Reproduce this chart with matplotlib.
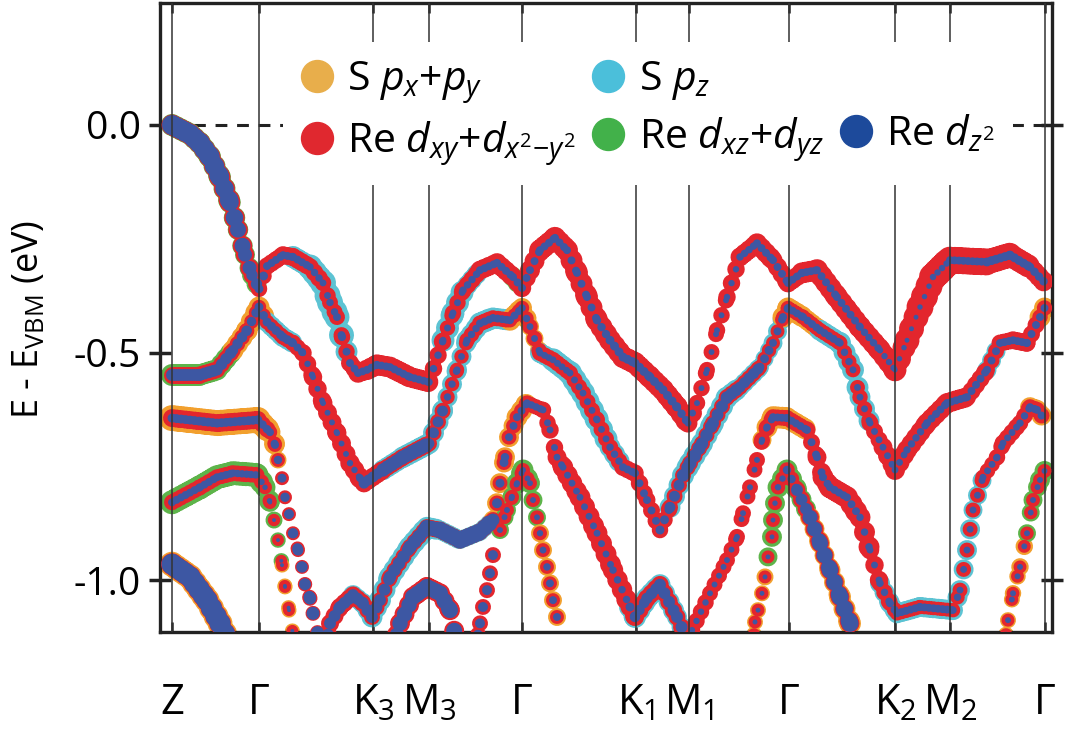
import matplotlib
matplotlib.use('Agg')
import matplotlib.pyplot as plt
from matplotlib.collections import LineCollection
from matplotlib.lines import Line2D
import numpy as np

plt.rcParams['font.family'] = ['Open Sans', 'DejaVu Sans']
plt.rcParams['mathtext.fontset'] = 'custom'
plt.rcParams['mathtext.rm'] = 'Open Sans'
plt.rcParams['mathtext.it'] = 'Open Sans:italic'
plt.rcParams['lines.scale_dashes'] = False

# high-symmetry points along the k-path
kpts = [0.0, 0.87, 2.01, 2.57, 3.50, 4.64, 5.17, 6.17, 7.23, 7.78, 8.73]
klabels = ['Z', 'Γ', 'K$_3$', 'M$_3$', 'Γ', 'K$_1$', 'M$_1$', 'Γ', 'K$_2$', 'M$_2$', 'Γ']

# every band: k, E (eV), halo orbital per point (o: S px+py, c: S pz, g: Re dxz+dyz, n: none),
# and dot diameters (px) of the halo, Re dxy+dx2-y2 (red) and Re dz2 (blue) layers
b1_k = [0.00, 0.18, 0.28, 0.38, 0.48, 0.58, 0.66, 0.73, 0.80, 0.87,
        0.95, 1.11, 1.21, 1.38, 1.51, 1.58, 1.65, 1.70, 1.78, 1.86, 1.95, 2.05, 2.18, 2.38, 2.57,
        2.71, 2.81, 2.91, 3.08, 3.25, 3.41, 3.50,
        3.58, 3.68, 3.83, 3.95, 4.05, 4.15, 4.25, 4.38, 4.51, 4.63, 4.78, 4.91, 5.05, 5.16,
        5.25, 5.35, 5.45, 5.55, 5.68, 5.85, 6.01, 6.16,
        6.30, 6.45, 6.65, 6.88, 7.08, 7.23, 7.35, 7.48, 7.61, 7.78, 8.15, 8.38, 8.58, 8.73]
b1_e = [0.000, -0.020, -0.040, -0.070, -0.115, -0.170, -0.230, -0.285, -0.330, -0.360,
        -0.310, -0.286, -0.290, -0.312, -0.347, -0.390, -0.422, -0.466, -0.523, -0.545, -0.538, -0.527, -0.532, -0.554, -0.565,
        -0.473, -0.413, -0.363, -0.319, -0.303, -0.334, -0.358,
        -0.319, -0.275, -0.248, -0.275, -0.325, -0.378, -0.429, -0.473, -0.510, -0.523, -0.554, -0.582, -0.620, -0.655,
        -0.611, -0.538, -0.451, -0.378, -0.290, -0.260, -0.297, -0.347,
        -0.325, -0.319, -0.378, -0.444, -0.495, -0.538, -0.473, -0.400, -0.334, -0.297, -0.301, -0.286, -0.312, -0.347]
b1_h = 'gggggggggg' + 'nncccccccnnnnnn' + 'ccccngg' + 'nnnnnnnnnnnnnn' + 'nnnnnnng' + 'nnnnnnnnnnnnng'
b1_hs = [22, 22, 22, 22, 22, 22, 21, 20, 20, 20,
         0, 0, 20, 24, 26, 26, 26, 24, 20, 0, 0, 0, 0, 0, 0,
         22, 24, 22, 18, 0, 20, 20,
         0, 0, 0, 0, 0, 0, 0, 0, 0, 0, 0, 0, 0, 0,
         0, 0, 0, 0, 0, 0, 0, 20,
         0, 0, 0, 0, 0, 0, 0, 0, 0, 0, 0, 0, 0, 20]
b1_rs = [21, 21, 21, 21, 21, 21, 20, 19, 18, 16,
         17, 18, 18, 18, 17, 16, 16, 16, 17, 19, 20, 21, 21, 21, 20,
         15, 16, 17, 18, 20, 19, 18,
         19, 21, 22, 22, 22, 22, 22, 22, 22, 22, 22, 22, 22, 21,
         17, 16, 16, 17, 18, 20, 20, 18,
         20, 22, 22, 22, 22, 22, 24, 26, 28, 28, 26, 24, 22, 18]
b1_bs = [20, 20, 20, 20, 19, 18, 17, 15, 13, 10,
         8, 8, 8, 8, 7, 7, 8, 8, 8, 8, 8, 8, 8, 8, 8,
         7, 7, 7, 8, 8, 8, 8,
         8, 8, 8, 8, 8, 8, 8, 9, 9, 9, 9, 9, 9, 8,
         6, 6, 6, 6, 7, 8, 8, 8,
         8, 8, 8, 8, 7, 6, 5, 5, 6, 7, 9, 9, 9, 8]

b2_k = [0.00, 0.28, 0.45, 0.61, 0.75, 0.87,
        0.95, 1.11, 1.21, 1.31, 1.41, 1.51, 1.65, 1.78, 1.88, 1.92, 2.11, 2.31, 2.57,
        2.71, 2.85, 2.95, 3.08, 3.21, 3.38, 3.50,
        3.58, 3.68, 3.81, 3.98, 4.11, 4.25, 4.38, 4.51, 4.63, 4.75, 4.88, 4.98,
        5.11, 5.18, 5.30, 5.41, 5.55, 5.68, 5.88, 6.01, 6.11, 6.16,
        6.31, 6.48, 6.68, 6.81, 6.88, 6.98, 7.11, 7.23, 7.35, 7.55, 7.75, 7.95, 8.15, 8.28, 8.41, 8.55, 8.68, 8.73]
b2_e = [-0.549, -0.549, -0.538, -0.495, -0.451, -0.400,
        -0.433, -0.466, -0.479, -0.501, -0.554, -0.611, -0.677, -0.743, -0.776, -0.787, -0.758, -0.730, -0.700,
        -0.626, -0.538, -0.473, -0.436, -0.424, -0.429, -0.402,
        -0.443, -0.501, -0.516, -0.545, -0.589, -0.648, -0.708, -0.752, -0.765, -0.824, -0.890, -0.840,
        -0.770, -0.743, -0.700, -0.655, -0.598, -0.576, -0.532, -0.479, -0.422, -0.402,
        -0.422, -0.451, -0.479, -0.538, -0.598, -0.655, -0.708, -0.758, -0.714, -0.655, -0.611, -0.598, -0.538, -0.479, -0.473, -0.479, -0.422, -0.400]
b2_h = 'gggooo' + 'cccnnnnnnnccc' + 'cccccoo' + 'occcccccnnnc' + 'ccccccccoo' + 'occcccnnnnnnccnnoo'
b2_hs = [22, 22, 21, 21, 21, 22,
         20, 20, 20, 0, 0, 0, 0, 0, 0, 0, 20, 21, 22,
         20, 20, 20, 22, 22, 20, 22,
         18, 18, 22, 24, 24, 24, 22, 20, 0, 0, 0, 20,
         22, 22, 22, 22, 22, 20, 18, 18, 20, 22,
         20, 20, 22, 22, 22, 20, 0, 0, 0, 0, 0, 0, 18, 20, 0, 0, 20, 22]
b2_rs = [17, 17, 17, 16, 15, 14,
         15, 15, 16, 17, 18, 19, 19, 19, 20, 20, 17, 17, 17,
         15, 14, 15, 16, 16, 15, 14,
         15, 16, 16, 16, 16, 16, 16, 17, 18, 17, 17, 16,
         16, 16, 16, 16, 16, 16, 15, 14, 14, 14,
         15, 15, 15, 15, 15, 16, 18, 20, 20, 20, 20, 20, 16, 16, 18, 18, 16, 15]
b2_bs = [12, 12, 12, 11, 10, 9,
         9, 9, 9, 7, 6, 6, 6, 6, 7, 9, 13, 14, 14,
         8, 7, 7, 8, 8, 8, 8,
         7, 7, 7, 7, 7, 7, 7, 8, 8, 8, 8, 10,
         12, 13, 13, 12, 12, 12, 10, 8, 8, 8,
         8, 8, 8, 7, 7, 7, 7, 7, 7, 8, 8, 8, 8, 8, 8, 8, 8, 8]

b3_k = [0.00, 0.45, 0.86, 0.98, 1.03, 1.06, 1.10, 1.13, 1.17, 1.21, 1.26, 1.30, 1.33, 1.38, 1.41, 1.46]
b3_e = [-0.644, -0.655, -0.648, -0.675, -0.703, -0.736, -0.776, -0.818, -0.855, -0.897, -0.934, -0.971, -1.009, -1.040, -1.073, -1.120]
b3_h = 'ooooooonnnnnnnnn'
b3_hs = [26, 26, 26, 22, 20, 18, 16, 0, 0, 0, 0, 0, 0, 0, 0, 0]
b3_rs = [18, 18, 18, 15, 14, 14, 14, 14, 14, 14, 14, 14, 14, 15, 15, 15]
b3_bs = [9, 9, 9, 8, 8, 8, 9, 9, 10, 10, 11, 11, 12, 12, 13, 13]

b4_k = [0.00, 0.28, 0.45, 0.61, 0.85, 0.93, 0.98, 1.02, 1.06, 1.10, 1.13, 1.17, 1.21]
b4_e = [-0.829, -0.796, -0.774, -0.765, -0.769, -0.796, -0.829, -0.868, -0.912, -0.967, -1.015, -1.066, -1.120]
b4_h = 'gggggggggoooo'
b4_hs = [24, 24, 24, 24, 24, 22, 20, 18, 16, 15, 15, 15, 15]
b4_rs = [16, 16, 16, 16, 16, 14, 14, 13, 12, 12, 12, 12, 12]
b4_bs = [8, 8, 8, 8, 7, 6, 5, 4, 4, 4, 4, 4, 4]

b5_k = [0.00, 0.18, 0.35, 0.48, 0.53]
b5_e = [-0.965, -0.993, -1.044, -1.095, -1.120]
b5_h = 'ooooo'
b5_hs = [25, 25, 25, 25, 25]
b5_rs = [22, 22, 22, 22, 22]
b5_bs = [21, 21, 21, 21, 21]

b6_k = [1.56, 1.58, 1.68, 1.81, 1.91, 2.00, 2.08, 2.18, 2.38, 2.55, 2.68, 2.88, 3.08,
        3.21, 3.25, 3.28, 3.33, 3.37, 3.45, 3.55,
        3.71, 3.78, 3.85, 3.91, 4.08, 4.25, 4.41, 4.58, 4.63, 4.75, 4.88, 5.05, 5.13]
b6_e = [-1.120, -1.095, -1.059, -1.033, -1.051, -1.081, -1.044, -0.993, -0.927, -0.884, -0.890, -0.912, -0.894,
        -0.868, -0.831, -0.787, -0.730, -0.686, -0.642, -0.611,
        -0.626, -0.670, -0.730, -0.752, -0.818, -0.897, -0.978, -1.059, -1.081, -1.040, -1.010, -1.081, -1.120]
b6_h = 'nnncccccccccc' + 'ooooooo' + 'nnnnnnncccccc'
b6_hs = [0, 0, 0, 20, 20, 20, 22, 22, 22, 22, 20, 18, 18,
         18, 20, 20, 20, 20, 20, 22,
         0, 0, 0, 0, 0, 0, 0, 22, 22, 22, 22, 20, 20]
b6_rs = [18, 18, 18, 18, 17, 16, 16, 16, 16, 16, 17, 17, 17,
         16, 16, 15, 15, 15, 15, 15,
         16, 17, 18, 20, 21, 21, 21, 20, 18, 18, 18, 17, 17]
b6_bs = [12, 12, 12, 12, 12, 12, 12, 12, 13, 14, 16, 17, 17,
         15, 11, 9, 9, 8, 8, 8,
         7, 7, 7, 7, 7, 7, 7, 8, 10, 11, 12, 12, 12]

b7_k = [3.06, 3.08, 3.11, 3.15, 3.18, 3.21, 3.25]
b7_e = [-1.120, -1.095, -1.059, -1.022, -0.985, -0.945, -0.908]
b7_h = 'nnnnnnn'
b7_hs = [0, 0, 0, 0, 0, 0, 0]
b7_rs = [16, 16, 16, 16, 16, 16, 16]
b7_bs = [10, 10, 10, 10, 10, 10, 10]

b8_k = [3.28, 3.35, 3.40, 3.45, 3.51, 3.58, 3.61, 3.65, 3.68, 3.71, 3.75, 3.78, 3.81, 3.85, 3.88]
b8_e = [-0.890, -0.846, -0.817, -0.787, -0.758, -0.787, -0.824, -0.862, -0.897, -0.934, -0.971, -1.007, -1.044, -1.081, -1.120]
b8_h = 'ggggggggooooooo'
b8_hs = [18, 18, 18, 20, 22, 20, 20, 18, 18, 18, 18, 18, 18, 18, 18]
b8_rs = [14, 14, 14, 14, 14, 14, 14, 14, 14, 14, 14, 14, 14, 14, 14]
b8_bs = [6, 6, 6, 6, 6, 6, 6, 6, 6, 7, 7, 8, 8, 8, 8]

b9_k = [2.25, 2.28, 2.41, 2.55, 2.68, 2.78, 2.83]
b9_e = [-1.120, -1.095, -1.037, -1.015, -1.029, -1.066, -1.120]
b9_h = 'nnnnnnn'
b9_hs = [0, 0, 0, 0, 0, 0, 0]
b9_rs = [20, 20, 20, 20, 20, 20, 20]
b9_bs = [14, 15, 16, 16, 16, 16, 16]

b10_k = [5.18, 5.20, 5.38, 5.55, 5.65, 5.71, 5.78, 5.85, 5.90, 5.95, 6.01, 6.15, 6.35,
         6.45, 6.51, 6.58, 6.75, 6.88, 6.98, 7.08, 7.18, 7.25, 7.48, 7.81, 7.88, 7.95, 8.01, 8.11,
         8.25, 8.31, 8.48, 8.58, 8.65, 8.73]
b10_e = [-1.130, -1.110, -1.029, -0.956, -0.905, -0.853, -0.796, -0.736, -0.692, -0.664, -0.642, -0.644, -0.670,
         -0.730, -0.774, -0.796, -0.818, -0.862, -0.934, -1.007, -1.051, -1.073, -1.059, -1.066, -1.022, -0.934, -0.846, -0.774,
         -0.730, -0.699, -0.655, -0.620, -0.626, -0.648]
b10_h = 'nnnnnnnnooooo' + 'nnnnnnccccccccc' + 'nnnooo'
b10_hs = [0, 0, 0, 0, 0, 0, 0, 0, 18, 20, 22, 22, 20,
          0, 0, 0, 0, 0, 0, 20, 20, 20, 20, 20, 20, 20, 20, 18,
          0, 0, 0, 20, 20, 20]
b10_rs = [17, 17, 16, 16, 16, 16, 16, 16, 16, 16, 16, 16, 16,
          18, 20, 22, 22, 22, 20, 17, 16, 15, 14, 14, 15, 15, 15, 15,
          16, 17, 17, 16, 16, 16]
b10_bs = [7, 7, 6, 6, 6, 6, 6, 6, 6, 7, 8, 8, 8,
          8, 8, 8, 8, 8, 7, 7, 8, 8, 8, 8, 7, 7, 7, 7,
          7, 7, 7, 8, 8, 8]

b11_k = [5.82, 5.83, 5.86, 5.90, 5.93, 5.96, 6.00, 6.01, 6.03, 6.06, 6.15, 6.25, 6.38, 6.48, 6.58, 6.68, 6.78, 6.81]
b11_e = [-1.120, -1.092, -1.066, -1.029, -0.993, -0.949, -0.905, -0.868, -0.831, -0.796, -0.758, -0.802, -0.862, -0.919, -0.978, -1.037, -1.095, -1.120]
b11_h = 'ooooogggggggoooooo'
b11_hs = [16, 16, 16, 16, 16, 18, 20, 20, 20, 20, 22, 20, 20, 20, 20, 22, 22, 22]
b11_rs = [13, 13, 13, 13, 13, 13, 13, 14, 14, 14, 15, 16, 18, 18, 18, 19, 19, 19]
b11_bs = [5, 5, 5, 5, 5, 5, 5, 5, 5, 6, 7, 10, 14, 16, 16, 17, 17, 17]

b12_k = [8.34, 8.36, 8.41, 8.48, 8.55, 8.61, 8.68, 8.73]
b12_e = [-1.120, -1.088, -1.029, -0.971, -0.897, -0.824, -0.780, -0.758]
b12_h = 'oooogggg'
b12_hs = [16, 16, 16, 17, 18, 18, 20, 20]
b12_rs = [13, 13, 13, 13, 13, 14, 14, 14]
b12_bs = [6, 6, 6, 6, 6, 6, 6, 6]

bands = [
    (b1_k, b1_e, b1_h, b1_hs, b1_rs, b1_bs),
    (b2_k, b2_e, b2_h, b2_hs, b2_rs, b2_bs),
    (b3_k, b3_e, b3_h, b3_hs, b3_rs, b3_bs),
    (b4_k, b4_e, b4_h, b4_hs, b4_rs, b4_bs),
    (b5_k, b5_e, b5_h, b5_hs, b5_rs, b5_bs),
    (b6_k, b6_e, b6_h, b6_hs, b6_rs, b6_bs),
    (b7_k, b7_e, b7_h, b7_hs, b7_rs, b7_bs),
    (b8_k, b8_e, b8_h, b8_hs, b8_rs, b8_bs),
    (b9_k, b9_e, b9_h, b9_hs, b9_rs, b9_bs),
    (b10_k, b10_e, b10_h, b10_hs, b10_rs, b10_bs),
    (b11_k, b11_e, b11_h, b11_hs, b11_rs, b11_bs),
    (b12_k, b12_e, b12_h, b12_hs, b12_rs, b12_bs),
]

HALO = {'o': '#F2A02E', 'c': '#5CC3D3', 'g': '#5DB44A'}
RED = '#E3262D'
BLUE = '#3D57A3'
PX = 0.72  # points per pixel at dpi 100

fig = plt.figure(figsize=(10.65, 7.36), dpi=100)
ax = fig.add_axes([160 / 1065, 104 / 736, 892 / 1065, 629 / 736])
ax.set_xlim(-0.12, 8.80)
ax.set_ylim(-1.114, 0.268)


def draw_band(k, e, halo, hs, rs, bs):
    xy = np.column_stack([k, e])
    pix = ax.transData.transform(xy)
    segs, styles, hcol, hw, rw, bw = [], [], [], [], [], []
    for i in range(len(k) - 1):
        segs.append(xy[i:i + 2])
        dx, dy = np.abs(pix[i + 1] - pix[i])
        # dots are evenly spaced in k, so they part where the band is steep
        step = min(4.5 * np.hypot(1.0, dy / max(dx, 0.5)), 21.0)
        styles.append((0, (0.01, step * PX)))
        c = halo[i] if halo[i] != 'n' else halo[i + 1]
        hcol.append(HALO.get(c, 'none'))
        hw.append(0.5 * (hs[i] + hs[i + 1]) * PX)
        rw.append(0.5 * (rs[i] + rs[i + 1]) * PX)
        bw.append(0.5 * (bs[i] + bs[i + 1]) * PX)
    for cols, widths, z in ((hcol, hw, 2), ([RED] * len(segs), rw, 3), ([BLUE] * len(segs), bw, 4)):
        lc = LineCollection(segs, colors=cols, linewidths=widths, linestyles=styles,
                            capstyle='round', zorder=z)
        ax.add_collection(lc)


for band in bands:
    draw_band(*band)

for kp in kpts:
    ax.axvline(kp, color='#333333', lw=1.1, zorder=6)
ax.hlines(0.0, kpts[0], kpts[-1], colors='#222222', lw=2.2, linestyles=(0, (8.5, 7.0)), zorder=1.5)

for sp in ax.spines.values():
    sp.set_linewidth(2.4)
    sp.set_color('#222222')

ax.set_xticks(kpts, klabels)
ax.set_yticks([0.0, -0.5, -1.0], ['0.0', '-0.5', '-1.0'])
ax.tick_params(axis='x', direction='in', length=7, width=1.8, top=True, pad=36,
               labelsize=30, color='#222222')
ax.tick_params(axis='y', direction='inout', length=16, width=2.5, right=True, pad=6,
               labelsize=28, color='#222222')

fig.text(29 / 1065, 1 - 319 / 736, 'E - E$_{\\mathrm{VBM}}$ (eV)', rotation=90,
         ha='center', va='center', fontsize=26)

h_pxy = Line2D([], [], ls='', marker='o', ms=23, color='#E8AE4B')
h_pz = Line2D([], [], ls='', marker='o', ms=23, color='#4BBFDA')
h_dxy = Line2D([], [], ls='', marker='o', ms=23, color='#E0282F')
h_dxz = Line2D([], [], ls='', marker='o', ms=23, color='#42B14A')
h_dz2 = Line2D([], [], ls='', marker='o', ms=23, color='#1D4A9B')
blank = Line2D([], [], ls='', marker='')
leg = ax.legend([h_pxy, h_dxy, h_pz, h_dxz, blank, h_dz2],
                ['S $p_x$+$p_y$', 'Re $d_{xy}$+$d_{x^2{-}y^2}$', 'S $p_z$',
                 'Re $d_{xz}$+$d_{yz}$', '', 'Re $d_{z^2}$'],
                ncol=3, loc='upper left', bbox_to_anchor=(0.138, 0.938), borderaxespad=0,
                fontsize=29.5, frameon=True, facecolor='white', edgecolor='none', framealpha=1,
                fancybox=False, handlelength=0.8, handletextpad=0.35, columnspacing=0.38,
                labelspacing=0.33, borderpad=0.42)
leg.set_zorder(10)

fig.savefig('out.png', dpi=100)
